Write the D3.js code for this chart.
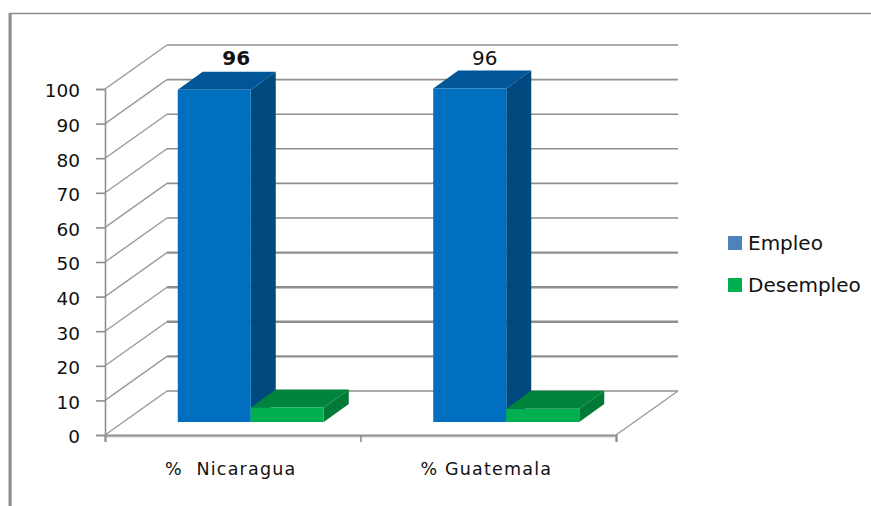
<!DOCTYPE html>
<html>
<head>
<meta charset="utf-8">
<script src="https://cdn.jsdelivr.net/npm/d3@7"></script>
<style>
  html, body { margin: 0; padding: 0; background: #fff; overflow: hidden; }
  text { font-family: "DejaVu Sans", sans-serif; fill: #111; }
  .xaxis text { white-space: pre; }
</style>
</head>
<body>
<div id="vis"></div>
<script>
const FRAME_WIDTH = 871;
const FRAME_HEIGHT = 506;

// values
const categories = ['%  Nicaragua', '% Guatemala'];
const series = ['Empleo', 'Desempleo'];
const empleo = [96, 96.4];
const desempleo = [4.2, 3.8];
const yTicks = [0, 10, 20, 30, 40, 50, 60, 70, 80, 90, 100];

const colors = {
  Empleo: {front: '#006fc0', top: '#005696', side: '#00497f', legend: '#4f81bd'},
  Desempleo: {front: '#00b050', top: '#00843c', side: '#007a36', legend: '#00b050'}
};

// front plane of the 3d box
const LEFT = 105, RIGHT = 616, BOTTOM = 435, TOP = 89;
// how far the back wall is pushed
const WALL_DX = 62, WALL_DY = -44;
// bars stand in the middle of the floor
const BAR_DX = 18, BAR_DY = -13;
const DEPTH_DX = 25, DEPTH_DY = -18;
const BAR_WIDTH = 73;

const GRID = '#8f8f8f';

const FRAME = d3.select('#vis')
  .append('svg')
    .attr('width', FRAME_WIDTH)
    .attr('height', FRAME_HEIGHT);

const X_SCALE = d3.scaleBand().domain(categories).range([LEFT, RIGHT]);
const Y_SCALE = d3.scaleLinear().domain([0, 100]).range([BOTTOM, TOP]);
const S_SCALE = d3.scaleBand().domain(series).range([-BAR_WIDTH, BAR_WIDTH]);

// picture frame, only top and left are visible
FRAME.append('path')
  .attr('d', 'M10.5,506V13.5H871')
  .attr('fill', 'none')
  .attr('stroke', '#8c8c8c')
  .attr('stroke-width', 1.5);
FRAME.append('line')
  .attr('x1', 10).attr('x2', 10).attr('y1', 13).attr('y2', 506)
  .attr('stroke', '#8c8c8c').attr('stroke-width', 3);

// grid lines, thin on the side wall
FRAME.selectAll('.diag')
  .data(yTicks)
  .enter()
  .append('line')
    .attr('class', 'diag')
    .attr('stroke', '#9a9a9a')
    .attr('stroke-width', 1.4)
    .attr('x1', LEFT)
    .attr('y1', (d) => Y_SCALE(d))
    .attr('x2', LEFT + WALL_DX)
    .attr('y2', (d) => Y_SCALE(d) + WALL_DY);

// back wall, the lower ones come out heavier in the reference
FRAME.selectAll('.grid')
  .data(yTicks)
  .enter()
  .append('line')
    .attr('class', 'grid')
    .attr('stroke', GRID)
    .attr('stroke-width', (d) => (d >= 10 && d <= 40) ? 2.4 : 1.6)
    .attr('x1', LEFT + WALL_DX)
    .attr('x2', RIGHT + WALL_DX)
    .attr('y1', (d) => Y_SCALE(d) + WALL_DY)
    .attr('y2', (d) => Y_SCALE(d) + WALL_DY);

// right edge of the floor
FRAME.append('line')
  .attr('x1', RIGHT).attr('y1', BOTTOM)
  .attr('x2', RIGHT + WALL_DX).attr('y2', BOTTOM + WALL_DY)
  .attr('stroke', '#9a9a9a').attr('stroke-width', 1.4);

// y axis
const yAxis = FRAME.append('g')
  .attr('transform', 'translate(' + LEFT + ',0)')
  .call(d3.axisLeft(Y_SCALE).tickValues(yTicks).tickSize(9).tickPadding(16));
yAxis.selectAll('path, line').attr('stroke', GRID).attr('stroke-width', 1.6);
yAxis.selectAll('text')
  .attr('font-size', '18.5px')
  .attr('dy', '.43em')
  .attr('font-family', '"DejaVu Sans"');

// soft shadow under the floor edge
FRAME.append('line')
  .attr('x1', LEFT).attr('x2', RIGHT)
  .attr('y1', BOTTOM + 2).attr('y2', BOTTOM + 2)
  .attr('stroke', '#e2e2e2').attr('stroke-width', 2);

// x axis
const xTickValues = [LEFT, (LEFT + RIGHT) / 2, RIGHT];
const xAxis = FRAME.append('g')
  .attr('transform', 'translate(0,' + BOTTOM + ')')
  .call(d3.axisBottom(d3.scaleLinear().domain([LEFT, RIGHT]).range([LEFT, RIGHT]))
    .tickValues(xTickValues).tickSize(7).tickFormat(''));
xAxis.selectAll('path, line').attr('stroke', GRID).attr('stroke-width', 1.6);
xAxis.select('path').attr('stroke-width', 2);

const catAxis = FRAME.append('g')
  .attr('class', 'xaxis')
  .attr('transform', 'translate(-2,' + BOTTOM + ')')
  .call(d3.axisBottom(X_SCALE).tickSize(0).tickPadding(28));
catAxis.select('path').remove();
catAxis.selectAll('text')
  .attr('font-size', '17.5px')
  .attr('letter-spacing', '1.2px')
  .attr('font-family', '"DejaVu Sans"');

// one flat row per bar
const bars = [];
categories.forEach((c, i) => {
  bars.push({cat: c, s: 'Empleo', v: empleo[i]});
  bars.push({cat: c, s: 'Desempleo', v: desempleo[i]});
});

function barBox(d) {
  const x0 = X_SCALE(d.cat) + X_SCALE.bandwidth() / 2 + S_SCALE(d.s) + BAR_DX;
  return {
    x0: x0,
    x1: x0 + S_SCALE.bandwidth(),
    y0: Y_SCALE(d.v) + BAR_DY,
    y1: Y_SCALE(0) + BAR_DY
  };
}

const barG = FRAME.selectAll('.bar')
  .data(bars)
  .enter()
  .append('g')
    .attr('class', 'bar');

barG.append('polygon')
  .attr('fill', (d) => colors[d.s].side)
  .attr('points', (d) => {
    const b = barBox(d);
    return [[b.x1, b.y0], [b.x1 + DEPTH_DX, b.y0 + DEPTH_DY], [b.x1 + DEPTH_DX, b.y1 + DEPTH_DY], [b.x1, b.y1]].join(' ');
  });
barG.append('polygon')
  .attr('fill', (d) => colors[d.s].top)
  .attr('points', (d) => {
    const b = barBox(d);
    return [[b.x0, b.y0], [b.x0 + DEPTH_DX, b.y0 + DEPTH_DY], [b.x1 + DEPTH_DX, b.y0 + DEPTH_DY], [b.x1, b.y0]].join(' ');
  });
barG.append('rect')
  .attr('fill', (d) => colors[d.s].front)
  .attr('x', (d) => barBox(d).x0)
  .attr('y', (d) => barBox(d).y0)
  .attr('width', S_SCALE.bandwidth())
  .attr('height', (d) => barBox(d).y1 - barBox(d).y0);

// the desempleo bars sit in front of the empleo side face
FRAME.selectAll('.bar').filter((d) => d.s === 'Desempleo').raise();

// value labels, only the blue series has them
FRAME.selectAll('.value')
  .data(bars.filter((d) => d.s === 'Empleo'))
  .enter()
  .append('text')
    .attr('class', 'value')
    .attr('text-anchor', 'middle')
    .attr('font-size', '20px')
    .attr('font-weight', (d, i) => i === 0 ? 'bold' : 'normal')
    .attr('x', (d, i) => barBox(d).x0 + BAR_WIDTH / 2 + (i === 0 ? 22 : 15))
    .attr('y', 65)
    .text((d) => Math.round(d.v));

// legend
const LEGEND_Y = d3.scalePoint().domain(series).range([243, 285]);
const legend = FRAME.selectAll('.legend')
  .data(series)
  .enter()
  .append('g')
    .attr('class', 'legend')
    .attr('transform', (d) => 'translate(728,' + LEGEND_Y(d) + ')');
legend.append('rect')
  .attr('x', 0).attr('y', -7)
  .attr('width', 14).attr('height', 14)
  .attr('fill', (d) => colors[d].legend);
legend.append('text')
  .attr('x', 20).attr('y', 7)
  .attr('font-size', '20px')
  .text((d) => d);
</script>
</body>
</html>
